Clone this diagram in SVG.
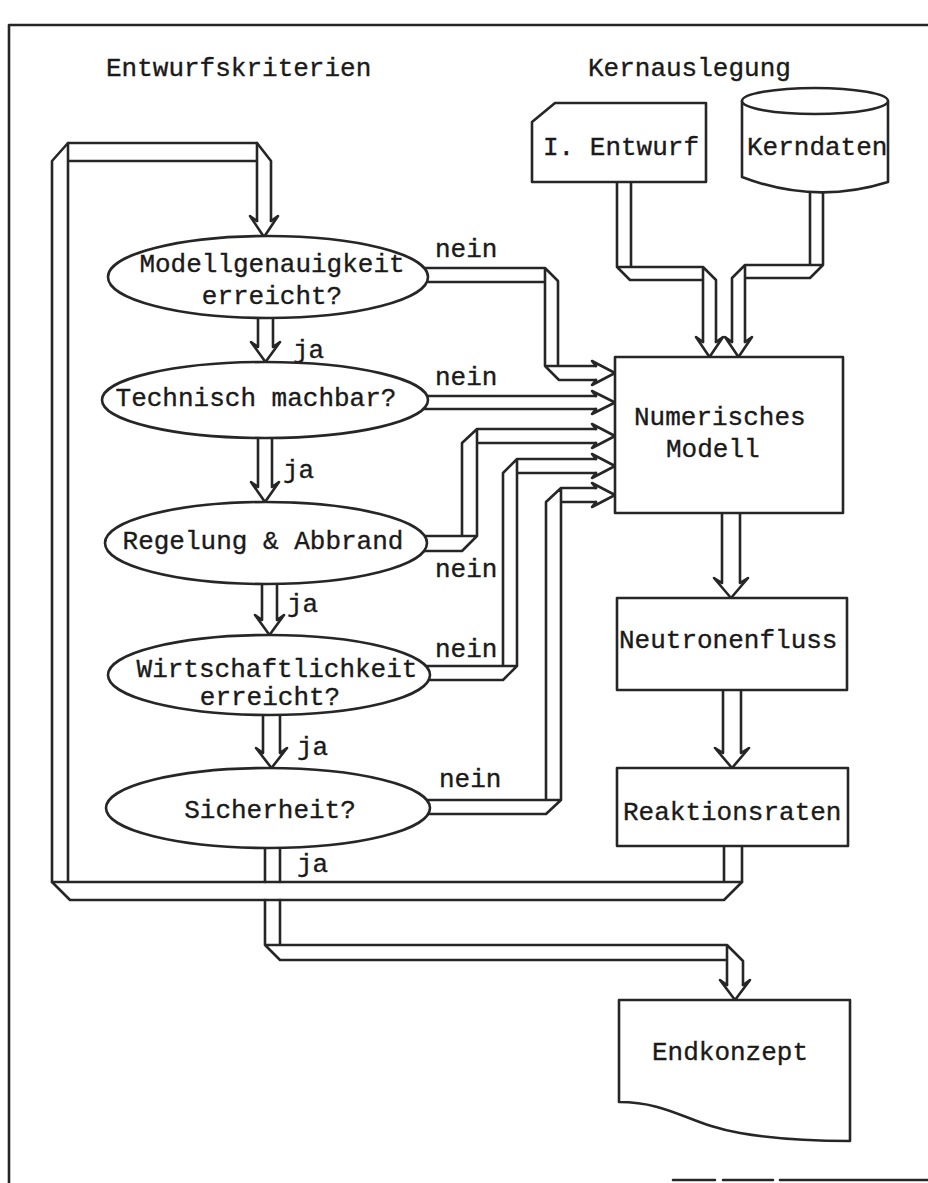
<svg xmlns="http://www.w3.org/2000/svg" width="928" height="1183" viewBox="0 0 928 1183">
<style>
.ln{fill:none;stroke:#262626;stroke-width:2.6;stroke-linejoin:round;stroke-linecap:round}
.nd{fill:#fff;stroke:#262626;stroke-width:2.6;stroke-linejoin:round}
.tx{font-family:"Liberation Mono","Courier New",monospace;font-size:26px;fill:#1a1a1a;stroke:#1a1a1a;stroke-width:0.35}
.c{text-anchor:middle}
</style>
<rect width="928" height="1183" fill="#fff"/>
<g id="frame" class="ln">
<path d="M9,1183 V25 H928"/>
<path d="M673,1180 H715 M723,1180 H773 M780,1180 H928"/>
</g>
<g id="headers" class="tx">
<text x="106" y="76">Entwurfskriterien</text>
<text x="588" y="76">Kernauslegung</text>
</g>
<g id="connectors" class="ln">
<path d="M742,846 V882 L724,900 H70 L52,882 V161 L68,143 H257 L271,161 V221"/>
<path d="M724,846 V882 M52,882 H742 M68,882 V143 M68,161 H257 M257,143 V221"/>
<path d="M257,221 L250,216 L264,237 L278,216 L271,221"/>
<path d="M617,182 V267 L630,280 H703 V342 M631,182 V267 M617,267 H703 L716,280 V342 M703,267 V280"/>
<path d="M703,342 L696,337 L709.5,357 L723,337 L716,342"/>
<path d="M823,188 V265 L810,278 H745 V342 M810,188 V265 M823,265 H745 L732,278 V342 M745,265 V278"/>
<path d="M732,342 L725,337 L738.5,357 L752,337 L745,342"/>
<path d="M722,513 V583 L714,578 L731,598 L748,578 L740,583 V513"/>
<path d="M723,690 V753 L715,748 L732,768 L749,748 L741,753 V690"/>
<path d="M258,310 V347 L251,342 L265.5,362 L280,342 L273,347 V310"/>
<path d="M258,432 V487 L251,482 L265,502 L279,482 L272,487 V432"/>
<path d="M262,578 V620 L255,615 L269.5,635 L284,615 L277,620 V578"/>
<path d="M263,708 V753 L256,748 L271.5,768 L287,748 L280,753 V708"/>
<path d="M265,840 V882 M280,840 V882"/>
<path d="M265,900 V945 L280,960 H727 V985 M280,900 V945 M265,945 H727 L743,961 V985 M727,945 V961"/>
<path d="M727,985 L720,980 L735,1000 L750,980 L743,985"/>
<path d="M415,268 H545 L558,281 V366 M415,282 H545 M545,268 V366 L559,380 H596 M545,366 H596"/>
<path d="M596,366 L592,361 L615,373 L592,385 L596,380"/>
<path d="M415,396 H596 M415,409 H596"/>
<path d="M596,396 L592,391 L615,402.5 L592,414 L596,409"/>
<path d="M415,551 H462 L477,536 V429 M415,536 H477 M462,536 V443 L477,429 H596 M477,443 H596"/>
<path d="M596,429 L592,424 L615,436 L592,448 L596,443"/>
<path d="M415,680 H503 L517,666 V459 M415,666 H517 M503,666 V473 L517,459 H596 M517,473 H596"/>
<path d="M596,459 L592,454 L615,466 L592,478 L596,473"/>
<path d="M415,814 H546 L561,800 V488 M415,800 H561 M546,800 V502 L561,488 H596 M561,502 H596"/>
<path d="M596,488 L592,483 L615,495 L592,507 L596,502"/>
</g>
<g id="labels" class="tx">
<text x="435" y="257">nein</text>
<text x="435" y="385">nein</text>
<text x="435" y="577">nein</text>
<text x="435" y="657">nein</text>
<text x="439" y="787">nein</text>
<text x="293" y="358">ja</text>
<text x="283" y="478">ja</text>
<text x="287" y="612">ja</text>
<text x="297" y="755">ja</text>
<text x="297" y="872">ja</text>
</g>
<g id="n-entwurf">
<path class="nd" d="M555,103 H706 V182 H532 V122 Z"/>
<text class="tx" x="543" y="155">I. Entwurf</text>
</g>
<g id="n-kerndaten">
<path class="nd" d="M742,101 V177 Q815,205 888,182 V101"/>
<ellipse class="nd" cx="815" cy="101" rx="73" ry="13"/>
<text class="tx" x="747" y="155">Kerndaten</text>
</g>
<g id="n-modellgenauigkeit">
<ellipse class="nd" cx="268" cy="277" rx="160" ry="41"/>
<text class="tx c" x="272" y="272">Modellgenauigkeit</text>
<text class="tx c" x="272" y="304">erreicht?</text>
</g>
<g id="n-technisch">
<ellipse class="nd" cx="265" cy="400" rx="163" ry="38"/>
<text class="tx c" x="256" y="406">Technisch machbar?</text>
</g>
<g id="n-regelung">
<ellipse class="nd" cx="266" cy="543" rx="161" ry="41"/>
<text class="tx c" x="263" y="549">Regelung &amp; Abbrand</text>
</g>
<g id="n-wirtschaft">
<ellipse class="nd" cx="269" cy="675" rx="161" ry="40"/>
<text class="tx c" x="277" y="677">Wirtschaftlichkeit</text>
<text class="tx c" x="270" y="705">erreicht?</text>
</g>
<g id="n-sicherheit">
<ellipse class="nd" cx="268" cy="808" rx="162" ry="40"/>
<text class="tx c" x="270" y="818">Sicherheit?</text>
</g>
<g id="n-numerisches">
<rect class="nd" x="615" y="357" width="228" height="156"/>
<text class="tx" x="634" y="425">Numerisches</text>
<text class="tx" x="666" y="457">Modell</text>
</g>
<g id="n-neutronenfluss">
<rect class="nd" x="617" y="598" width="230" height="92"/>
<text class="tx" x="619" y="648">Neutronenfluss</text>
</g>
<g id="n-reaktionsraten">
<rect class="nd" x="617" y="768" width="231" height="78"/>
<text class="tx" x="623" y="820">Reaktionsraten</text>
</g>
<g id="n-endkonzept">
<path class="nd" d="M619,1000 H850 V1141 C820,1141 780,1140 740,1133 C690,1125 670,1102 619,1102 Z"/>
<text class="tx" x="652" y="1060">Endkonzept</text>
</g>
</svg>
